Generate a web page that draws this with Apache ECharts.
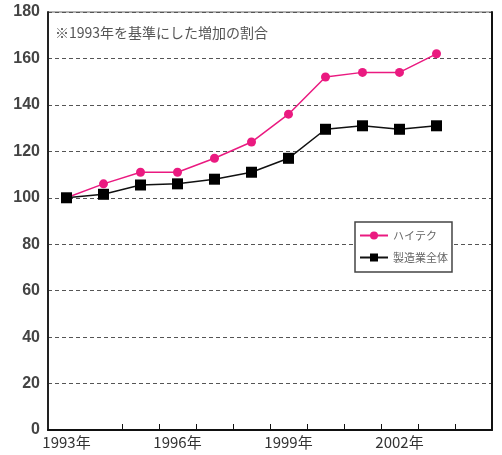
<!DOCTYPE html>
<html><head><meta charset="utf-8">
<script src="https://cdn.jsdelivr.net/npm/echarts@6/dist/echarts.min.js"></script>
<style>html,body{margin:0;padding:0;background:#fff}#c{width:502px;height:455px}</style>
</head><body><div id="c"></div>
<script>
const years = ['1993','1994','1995','1996','1997','1998','1999','2000','2001','2002','2003','2004'];
const hiTech = [100, 106, 111, 111, 117, 124, 136, 152, 154, 154, 162];
const manufacturing = [100, 101.5, 105.5, 106, 108, 111, 117, 129.5, 131, 129.5, 131];
const seriesNames = ['ハイテク', '製造業全体'];
const note = '※1993年を基準にした増加の割合';

const chart = echarts.init(document.getElementById('c'));
const numFont = 'Liberation Sans Narrow, Liberation Sans, sans-serif';
chart.setOption({
  animation: false,
  backgroundColor: '#fff',
  grid: {left: 48, right: 10, top: 12, bottom: 25, show: true, borderColor: '#666', borderWidth: 1},
  graphic: [{type: 'text', left: 55, top: 26, style: {text: note, fontSize: 14, fill: '#555', fontFamily: 'Noto Sans CJK JP'}}],
  legend: {
    left: 355, top: 222, orient: 'vertical', itemGap: 11, itemWidth: 28, itemHeight: 10,
    borderColor: '#444', borderWidth: 1.5, padding: [8, 4, 9, 4], backgroundColor: '#fff',
    textStyle: {fontSize: 11, color: '#666', fontFamily: 'Noto Sans CJK JP'},
    data: seriesNames
  },
  xAxis: {
    type: 'category', data: years, boundaryGap: true,
    axisLine: {lineStyle: {color: '#111', width: 2}},
    axisTick: {show: true, inside: true, length: 6, lineStyle: {color: '#111', width: 1},
      interval: (i) => i >= 2},
    axisLabel: {interval: 2, formatter: v => v + '年', color: '#333', fontSize: 15, margin: 5, fontFamily: 'Noto Sans CJK JP'}
  },
  yAxis: [{
    type: 'value', min: 0, max: 180, interval: 20,
    axisLine: {show: true, lineStyle: {color: '#222', width: 2}},
    axisTick: {show: false},
    axisLabel: {color: '#444', fontSize: 16, fontWeight: 'bold', fontFamily: numFont, margin: 8},
    splitLine: {lineStyle: {color: '#555', type: [4, 3], width: 1}}
  }, {
    type: 'value', min: 0, max: 180, interval: 20, position: 'right',
    axisLine: {show: true, lineStyle: {color: '#111', width: 2}},
    axisTick: {show: false}, axisLabel: {show: false}, splitLine: {show: false}
  }],
  series: [{
    name: seriesNames[0], type: 'line', data: hiTech, symbol: 'circle', symbolSize: 9,
    itemStyle: {color: '#ea1a80'}, lineStyle: {color: '#ea1a80', width: 1.5}
  }, {
    name: seriesNames[1], type: 'line', data: manufacturing, symbol: 'rect', symbolSize: 11,
    itemStyle: {color: '#000'}, lineStyle: {color: '#111', width: 1.5}
  }]
});
</script></body></html>
